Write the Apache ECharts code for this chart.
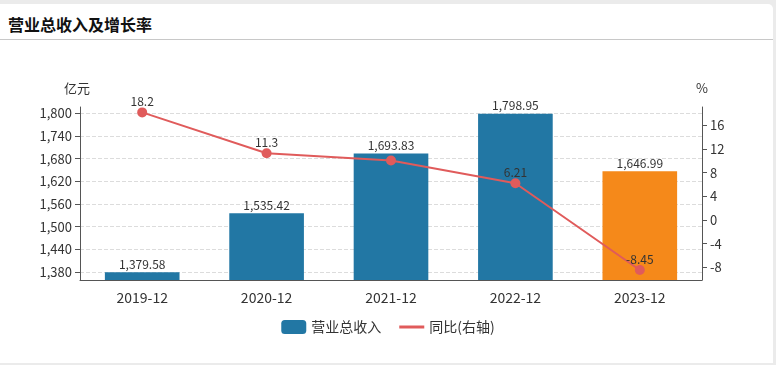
<!DOCTYPE html>
<html><head><meta charset="utf-8">
<script src="https://cdn.jsdelivr.net/npm/echarts@6/dist/echarts.min.js"></script>
<style>
html,body{margin:0;padding:0;width:776px;height:365px;background:#ebebeb;overflow:hidden;font-family:"Microsoft YaHei","Noto Sans CJK SC",sans-serif;}
#card{position:absolute;left:0;top:4px;width:773px;height:359px;background:#fff;border-radius:0 5px 0 0;}
#title{position:absolute;left:8px;top:8px;font-size:16px;font-weight:bold;color:#111;font-family:"Noto Sans CJK SC",sans-serif;}
#sep{position:absolute;left:0;top:35px;width:773px;height:1px;background:#c8c8c8;}
#chart{position:absolute;left:0;top:0;width:776px;height:365px;}
</style></head>
<body>
<div id="card"><div id="title">营业总收入及增长率</div><div id="sep"></div></div>
<div id="chart"></div>
<script>
const categories = ['2019-12','2020-12','2021-12','2022-12','2023-12'];
const revenue = [1379.58, 1535.42, 1693.83, 1798.95, 1646.99];
const growth = [18.2, 11.3, 10.05, 6.21, -8.45];
const growthLabels = ['18.2','11.3','','6.21','-8.45'];
const leftTicks = [1380,1440,1500,1560,1620,1680,1740,1800];
const rightTicks = [-8,-4,0,4,8,12,16];

const chart = echarts.init(document.getElementById('chart'), null, {renderer:'canvas'});
const fmt = v => v.toLocaleString('en-US',{minimumFractionDigits:2,maximumFractionDigits:2});
const font = '"Microsoft YaHei","Noto Sans CJK SC",sans-serif';
chart.setOption({
  animation:false,
  textStyle:{fontFamily:font},
  grid:{left:80,right:74,top:107,bottom:85,containLabel:false},
  legend:{
    bottom:26,left:'center',itemWidth:25,itemHeight:14,itemGap:18,
    textStyle:{fontSize:14,color:'#333',fontFamily:font},
    data:[{name:'营业总收入',icon:'roundRect'},{name:'同比(右轴)',icon:'path://M0,0L100,0L100,12L0,12Z'}]
  },
  xAxis:{
    type:'category',data:categories,
    axisLine:{onZero:false,lineStyle:{color:'#555'}},
    axisTick:{alignWithLabel:true,lineStyle:{color:'#555'}},
    axisLabel:{fontSize:14,color:'#333',margin:11}
  },
  yAxis:[{
    type:'value',min:1358.9,max:1816.9,
    name:'亿元',nameTextStyle:{fontSize:13,color:'#333',align:'right',padding:[0,-10,0,0]},nameGap:12,
    axisLine:{show:true,lineStyle:{color:'#555'}},
    axisTick:{show:true,customValues:leftTicks,lineStyle:{color:'#555'}},
    axisLabel:{customValues:leftTicks,fontSize:13,color:'#333',formatter:v=>v.toLocaleString('en-US')},
    splitLine:{show:true,lineStyle:{type:'dashed',color:'#dcdcdc'}}
  },{
    type:'value',min:-10.14,max:19.11,position:'right',
    name:'%',nameTextStyle:{fontSize:13,color:'#333'},nameGap:12,
    axisLine:{show:true,onZero:false,lineStyle:{color:'#555'}},
    axisTick:{show:true,customValues:rightTicks,lineStyle:{color:'#555'}},
    axisLabel:{customValues:rightTicks,fontSize:13,color:'#333'},
    splitLine:{show:false}
  }],
  series:[{
    name:'营业总收入',type:'bar',barWidth:'60%',
    data:revenue.map((v,i)=>({value:v,itemStyle:{color:i===4?'#f5891a':'#2277a4'}})),
    itemStyle:{color:'#2277a4'},
    label:{show:true,position:'top',distance:2,fontSize:12,color:'#333',formatter:p=>fmt(p.value)}
  },{
    name:'同比(右轴)',type:'line',yAxisIndex:1,
    data:growth,symbol:'circle',symbolSize:10,
    lineStyle:{color:'#e05b5b',width:2},itemStyle:{color:'#e05b5b'},
    label:{show:true,position:'top',distance:0,fontSize:12,color:'#333',formatter:p=>growthLabels[p.dataIndex]},
    z:5
  }]
});
</script>
</body></html>
